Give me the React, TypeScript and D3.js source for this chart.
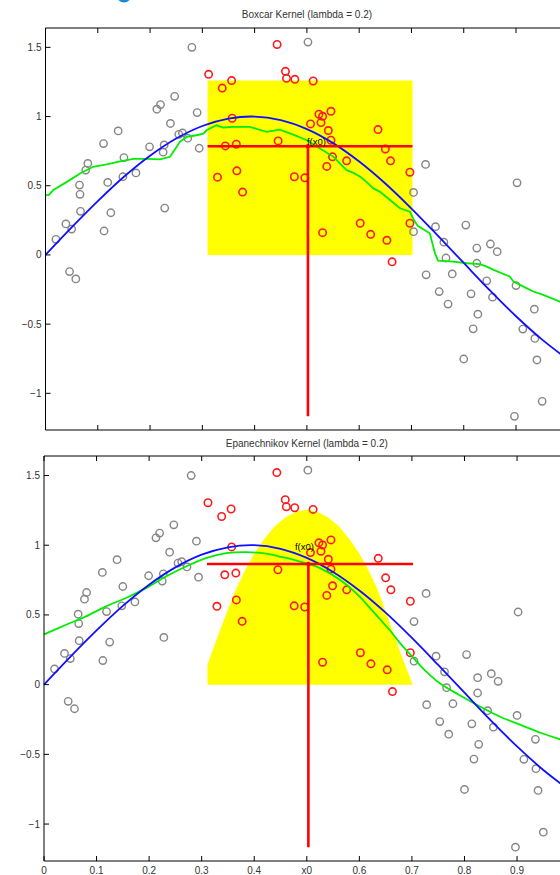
import React from 'react';
import * as d3 from 'd3';

// ---------- data ----------
const grayX = [0.280,0.213,0.220,0.247,0.290,0.239,0.139,0.111,0.199,0.227,
  0.225,0.255,0.262,0.272,0.294,0.150,0.081,0.077,0.148,0.173,
  0.119,0.065,0.066,0.067,0.125,0.228,0.039,0.050,0.020,0.112,
  0.046,0.058,0.502,0.727,0.902,0.704,0.704,0.746,0.804,0.762,
  0.766,0.728,0.778,0.825,0.851,0.864,0.825,0.844,0.753,0.770,
  0.814,0.855,0.900,0.827,0.818,0.935,0.913,0.936,0.800,0.940,
  0.950,0.897];
const grayY = [1.50,1.053,1.087,1.146,1.029,0.950,0.896,0.805,0.781,0.795,
  0.743,0.872,0.882,0.844,0.771,0.704,0.661,0.613,0.565,0.593,
  0.524,0.505,0.438,0.315,0.305,0.339,0.224,0.187,0.113,0.173,
  -0.120,-0.173,1.538,0.654,0.521,0.452,0.168,0.204,0.216,0.092,
  -0.022,-0.144,-0.137,0.050,0.079,0.024,-0.060,-0.187,-0.265,-0.355,
  -0.281,-0.305,-0.221,-0.428,-0.534,-0.392,-0.536,-0.603,-0.752,-0.759,
  -1.058,-1.166];

const redX = [0.312,0.338,0.356,0.357,0.344,0.365,0.329,0.366,0.377,0.443,
  0.445,0.459,0.461,0.477,0.512,0.523,0.530,0.546,0.527,0.507,
  0.541,0.546,0.549,0.538,0.576,0.476,0.496,0.636,0.650,0.660,
  0.697,0.530,0.602,0.622,0.653,0.663,0.697];
const redY = [1.305,1.206,1.260,0.988,0.788,0.800,0.562,0.608,0.454,1.521,
  0.824,1.327,1.276,1.269,1.257,1.017,1.002,1.038,0.957,0.947,
  0.899,0.829,0.709,0.640,0.680,0.565,0.557,0.906,0.766,0.680,
  0.598,0.161,0.229,0.149,0.106,-0.050,0.229];

// true function (blue), read at x = 0, 0.05, ..., 1
const trueX = [0,0.05,0.1,0.15,0.2,0.25,0.3,0.35,0.4,0.45,0.5,0.55,0.6,0.65,0.7,0.75,0.8,0.85,0.9,0.95,1.0];
const trueY = [0,0.199,0.389,0.565,0.717,0.841,0.932,0.985,1.0,0.974,0.909,0.808,0.675,0.516,0.335,0.141,-0.058,-0.256,-0.443,-0.612,-0.757];

// boxcar (nearest-neighbour average) fit, green, top panel
const boxFitX = [0,0.006,0.015,0.041,0.066,0.091,0.117,0.143,0.168,0.194,
  0.219,0.238,0.251,0.257,0.270,0.289,0.302,0.308,0.327,0.340,
  0.359,0.391,0.423,0.448,0.474,0.500,0.525,0.551,0.563,0.576,
  0.589,0.602,0.614,0.627,0.640,0.659,0.678,0.697,0.705,0.712,
  0.735,0.745,0.751,0.780,0.806,0.831,0.844,0.857,0.888,0.895,
  0.920,0.933,0.952,0.984,1.0];
const boxFitY = [0.433,0.433,0.469,0.528,0.589,0.637,0.654,0.676,0.694,0.694,
  0.690,0.709,0.781,0.817,0.853,0.865,0.877,0.901,0.937,0.921,
  0.925,0.925,0.889,0.905,0.870,0.829,0.770,0.709,0.661,0.613,
  0.593,0.565,0.528,0.481,0.456,0.397,0.337,0.312,0.25,0.21,
  0.156,0.012,-0.041,-0.048,-0.060,-0.067,-0.084,-0.108,-0.156,-0.192,
  -0.240,-0.264,-0.288,-0.337,-0.355];

// Epanechnikov kernel-weighted fit, green, bottom panel
const epaFitX = [0,0.041,0.079,0.117,0.155,0.194,0.232,0.270,0.308,0.347,
  0.385,0.423,0.448,0.487,0.525,0.563,0.601,0.620,0.639,0.658,
  0.677,0.696,0.715,0.734,0.753,0.791,0.831,0.869,0.908,0.946,
  0.984,1.0];
const epaFitY = [0.361,0.428,0.488,0.560,0.620,0.692,0.776,0.847,0.908,0.944,
  0.951,0.939,0.919,0.883,0.836,0.752,0.63,0.55,0.47,0.39,
  0.30,0.22,0.14,0.07,0.01,-0.076,-0.160,-0.232,-0.291,-0.347,
  -0.394,-0.41];

// kernel weight shapes (yellow)
const boxKernelX = [0.31, 0.702];
const boxKernelH = [1.26];
const epaKernelX = [0.311,0.311,0.32,0.34,0.36,0.38,0.40,0.42,0.44,0.46,0.48,0.50,0.52,0.54,0.56,0.58,0.60,0.62,0.635,0.656,0.68,0.7015];
const epaKernelH = [0,0.14,0.24,0.44,0.64,0.80,0.94,1.05,1.14,1.20,1.24,1.255,1.24,1.20,1.14,1.05,0.94,0.80,0.68,0.46,0.21,0];

// target point and fitted values
const x0Box = 0.502;
const x0Epa = 0.503;
const windowLo = 0.31;
const windowHi = 0.702;
const fBox = 0.786;
const fEpa = 0.865;
const stemBottom = -1.166;
const labelBox = [0.500, 0.795];
const labelEpa = [0.4775, 0.965];

const xTicks = [0,0.1,0.2,0.3,0.4,0.5,0.6,0.7,0.8,0.9];
const xTickLabels = ['0','0.1','0.2','0.3','0.4','x0','0.6','0.7','0.8','0.9'];
const yTicks = [1.5,1,0.5,0,-0.5,-1];
const yTickLabels = ['1.5','1','0.5','0','\u22120.5','\u22121'];
const yDomain = [-1.265, 1.64];

const titles = ['Boxcar Kernel (lambda = 0.2)', 'Epanechnikov Kernel (lambda = 0.2)'];

const FONT = '"Liberation Sans", Arial, Helvetica, sans-serif';

type PanelProps = {
  kind: 'box' | 'epa';
  xr: [number, number];
  yr: [number, number];
  titleY: number;
  showXLabels: boolean;
};

function Panel({ kind, xr, yr, titleY, showXLabels }: PanelProps) {
  const x = d3.scaleLinear().domain([0, 1]).range(xr);
  const y = d3.scaleLinear().domain(yDomain).range(yr);
  const [L, R] = xr;
  const [B, T] = yr;

  const lineGen = d3.line<[number, number]>().x(d => x(d[0])).y(d => y(d[1]));
  const smoothGen = d3.line<[number, number]>().x(d => x(d[0])).y(d => y(d[1])).curve(d3.curveCatmullRom);

  const truePts = trueX.map((v, i) => [v, trueY[i]] as [number, number]);
  const fitX = kind === 'box' ? boxFitX : epaFitX;
  const fitY = kind === 'box' ? boxFitY : epaFitY;
  const fitPts = fitX.map((v, i) => [v, fitY[i]] as [number, number]);
  const fitPath = kind === 'box' ? lineGen(fitPts) : smoothGen(fitPts);

  let kernelPath = '';
  if (kind === 'box') {
    kernelPath = d3.area<number>().x(d => x(d)).y0(y(0)).y1(y(boxKernelH[0]))(boxKernelX) || '';
  } else {
    const pts = epaKernelX.map((v, i) => [v, epaKernelH[i]] as [number, number]);
    kernelPath = (lineGen(pts) || '') + 'Z';
  }

  const x0 = kind === 'box' ? x0Box : x0Epa;
  const f = kind === 'box' ? fBox : fEpa;
  const lab = kind === 'box' ? labelBox : labelEpa;
  const tickLen = 5;

  return (
    <g>
      <text x={(L + R) / 2} y={titleY} textAnchor="middle" fontSize={10} fill="#333" fontFamily={FONT}>
        {kind === 'box' ? titles[0] : titles[1]}
      </text>
      <path d={kernelPath} fill="#ffff00" stroke="none" />
      {grayX.map((v, i) => (
        <circle key={'g' + i} cx={x(v)} cy={y(grayY[i])} r={3.7} fill="none" stroke="#858585" strokeWidth={1.4} />
      ))}
      {redX.map((v, i) => (
        <circle key={'r' + i} cx={x(v)} cy={y(redY[i])} r={3.7} fill="none" stroke="#ff1a1a" strokeWidth={1.6} />
      ))}
      <path d={fitPath || ''} fill="none" stroke="#00ee00" strokeWidth={1.8} />
      <path d={smoothGen(truePts) || ''} fill="none" stroke="#1010ff" strokeWidth={1.8} />
      <line x1={x(windowLo)} x2={x(windowHi)} y1={y(f)} y2={y(f)} stroke="#ff0000" strokeWidth={2.6} />
      <line x1={x(x0)} x2={x(x0)} y1={y(f)} y2={y(stemBottom)} stroke="#ff0000" strokeWidth={2.6} />
      <circle cx={x(x0)} cy={y(f)} r={2.2} fill="#ff0000" />
      <text x={x(lab[0])} y={y(lab[1])} fontSize={9.5} fill="#000" fontFamily={FONT}>f(x0)</text>
      {/* frame */}
      <line x1={L} x2={R} y1={T} y2={T} stroke="#000" strokeWidth={1} />
      <line x1={L} x2={R} y1={B} y2={B} stroke="#000" strokeWidth={1} />
      <line x1={L} x2={L} y1={T} y2={B} stroke="#000" strokeWidth={1} />
      <line x1={R} x2={R} y1={T} y2={B} stroke="#000" strokeWidth={1} />
      {xTicks.map((t, i) => (
        <g key={'xt' + i}>
          <line x1={x(t)} x2={x(t)} y1={T} y2={T + tickLen} stroke="#000" strokeWidth={1} />
          <line x1={x(t)} x2={x(t)} y1={B} y2={B - tickLen} stroke="#000" strokeWidth={1} />
          {showXLabels && (
            <text x={x(t)} y={B + 12.5} textAnchor="middle" fontSize={10} fill="#333" fontFamily={FONT}>
              {xTickLabels[i]}
            </text>
          )}
        </g>
      ))}
      {yTicks.map((t, i) => (
        <g key={'yt' + i}>
          <line x1={L} x2={L + tickLen} y1={y(t)} y2={y(t)} stroke="#000" strokeWidth={1} />
          <text x={L - 4} y={y(t) + 3.5} textAnchor="end" fontSize={10} fill="#333" fontFamily={FONT}>
            {yTickLabels[i]}
          </text>
        </g>
      ))}
    </g>
  );
}

export default function App() {
  return (
    <svg width={560} height={875} style={{ position: 'absolute', left: 0, top: 0, background: '#fff' }}>
      <rect x={0} y={0} width={560} height={875} fill="#fff" />
      <circle cx={124} cy={-5} r={7.5} fill="#1a8ad4" />
      <Panel kind="box" xr={[45.5, 568.3]} yr={[430, 28]} titleY={18} showXLabels={false} />
      <Panel kind="epa" xr={[44, 569.6]} yr={[861, 456]} titleY={447} showXLabels={true} />
    </svg>
  );
}
